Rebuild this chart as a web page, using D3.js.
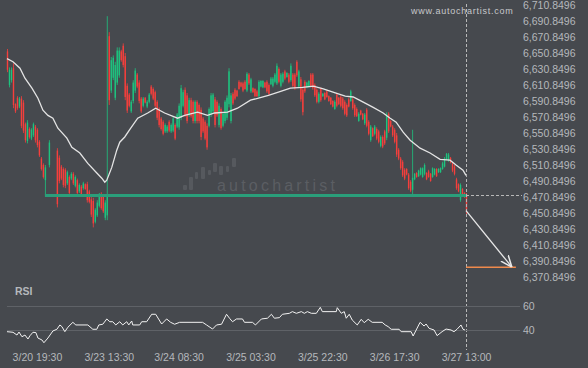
<!DOCTYPE html>
<html>
<head>
<meta charset="utf-8">
<script src="https://cdn.jsdelivr.net/npm/d3@7"></script>
<style>
  html, body { margin: 0; padding: 0; background: #46494e; }
  svg { display: block; font-family: "Liberation Sans", Arial, sans-serif; }
</style>
</head>
<body>
<svg id="chart" width="588" height="368"></svg>
<script>
// ============================================================
// DATA (30 min candles, null = no bar)
// ============================================================
var opens = [
  6651,6609,6615,6630,6585,6593,6582,6592,6587,6560,
  6539,6554,6542,6546,6557,6553,6538,6517,6509,6490,
  null,6509,null,null,null,6527,6518,6507,6504,6503,
  6486,6494,6492,6498,6483,6490,6476,6482,6480,6485,
  6485,6476,6466,6464,6438,6446,6458,6473,6469,6443,
  6446,6670,6602,6618,6593,6612,6621,6651,6658,6645,
  6608,6597,6576,6589,6602,6622,6612,6592,6583,6593,
  6582,6588,6607,6604,6600,6588,6579,6567,6563,6551,
  6551,6563,6551,6552,6559,6557,6556,6568,6583,6603,
  6596,6571,6590,6588,6564,6588,6584,6578,6567,6563,
  6558,6558,6572,6576,6591,6588,6559,6579,6558,6564,
  6568,6585,6564,6598,6603,6602,6613,6612,6611,6613,
  6602,6622,6601,6605,6604,6601,6595,6607,6606,6612,
  6613,6609,6610,6608,6613,6611,6629,6608,6613,6626,
  6619,6622,6615,6622,6622,6638,6607,6616,6603,6613,
  6606,6607,6622,6622,6609,6603,6588,6604,6595,6599,
  6601,6595,6593,6589,6579,6597,6593,6594,6592,6588,
  6584,6591,6589,6591,6584,6579,6564,6577,6573,6561,
  6578,6563,6540,6555,6548,6554,6551,6533,6544,6551,
  6543,6573,6564,6557,6553,6546,6528,6517,6513,6503,
  6504,6497,6488,6478,6491,6499,6495,6497,6494,6498,
  6499,6501,6498,6494,6497,6504,6500,6500,6504,6507,
  6516,6514,6518,6511,6507,6491,6485,6465,6479,6474,
  6472
];
var highs = [
  6654,6631,6631,6636,6586,6595,6594,6595,6590,6562,
  6565,6556,6555,6562,6559,6555,6540,6519,6511,6509,
  null,6540,null,null,null,6530,6521,6509,6506,6505,
  6502,6496,6500,6500,6496,6492,6486,6484,6488,6486,
  6488,6478,6469,6468,6455,6465,6474,6475,6471,6465,
  6695,6675,6644,6646,6638,6656,6656,6653,6661,6649,
  6611,6599,6590,6615,6630,6624,6615,6594,6594,6594,
  6590,6599,6609,6606,6602,6590,6581,6569,6565,6561,
  6559,6565,6561,6569,6561,6574,6586,6609,6603,6606,
  6599,6593,6593,6590,6590,6590,6586,6581,6569,6565,
  6561,6581,6599,6599,6594,6590,6586,6581,6575,6590,
  6596,6630,6599,6600,6605,6603,6615,6613,6613,6615,
  6625,6624,6618,6606,6605,6603,6615,6615,6615,6613,
  6615,6611,6619,6619,6624,6636,6631,6624,6625,6628,
  6625,6624,6636,6624,6624,6640,6628,6619,6606,6615,
  6613,6615,6624,6624,6611,6605,6600,6606,6599,6600,
  6603,6596,6594,6590,6590,6599,6594,6596,6594,6590,
  6586,6593,6603,6593,6586,6581,6575,6578,6574,6574,
  6580,6565,6559,6556,6559,6556,6553,6546,6546,6553,
  6575,6575,6565,6559,6555,6549,6530,6519,6515,6505,
  6505,6499,6490,6553,6499,6500,6503,6506,6506,6511,
  6500,6503,6499,6506,6505,6505,6505,6506,6513,6519,
  6524,6524,6519,6513,6509,6493,6486,6486,6480,6475,
  6474
];
var lows = [
  6625,6606,6612,6580,6574,6578,6580,6555,6549,6537,
  6536,6542,6540,6544,6537,6531,6519,6502,6492,6471,
  null,6506,null,null,null,6456,6486,6490,6481,6480,
  6484,6471,6490,6484,6481,6471,6474,6469,6478,6478,
  6462,6461,6444,6431,6436,6444,6456,6453,6449,6440,
  6440,6584,6599,6615,6590,6609,6618,6638,6631,6590,
  6574,6581,6574,6586,6599,6605,6586,6574,6581,6586,
  6580,6586,6596,6590,6581,6565,6556,6552,6546,6549,
  6549,6550,6549,6550,6540,6555,6553,6565,6581,6569,
  6561,6569,6568,6561,6561,6561,6561,6540,6549,6540,
  6528,6556,6569,6574,6556,6569,6556,6553,6556,6561,
  6565,6581,6561,6584,6590,6594,6603,6606,6600,6603,
  6600,6609,6599,6599,6594,6594,6593,6606,6605,6605,
  6599,6596,6609,6606,6611,6609,6611,6606,6611,6615,
  6618,6611,6613,6606,6603,6619,6605,6588,6571,6599,
  6605,6606,6606,6603,6594,6586,6586,6588,6594,6590,
  6593,6588,6584,6581,6578,6581,6584,6581,6578,6571,
  6569,6581,6588,6578,6569,6569,6563,6571,6565,6559,
  6556,6546,6538,6544,6546,6540,6536,6531,6530,6534,
  6540,6549,6556,6544,6536,6519,6515,6503,6494,6490,
  6496,6478,6475,6471,6490,6493,6494,6496,6493,6496,
  6490,6493,6488,6493,6496,6494,6499,6499,6503,6506,
  6515,6513,6511,6500,6496,6478,6475,6463,6469,6468,
  6446
];
var closes = [
  6628,6628,6628,6584,6576,6580,6592,6558,6552,6540,
  6562,6544,6553,6560,6540,6534,6521,6504,6494,6506,
  null,6537,null,null,null,6460,6489,6492,6484,6483,
  6500,6474,6498,6486,6494,6474,6484,6471,6486,6479,
  6465,6463,6447,6436,6453,6462,6472,6455,6451,6462,
  6470,6590,6640,6643,6634,6652,6652,6640,6634,6594,
  6577,6583,6588,6612,6627,6607,6589,6576,6592,6587,
  6588,6597,6598,6592,6583,6568,6559,6554,6548,6559,
  6557,6552,6559,6567,6542,6572,6583,6605,6600,6572,
  6564,6590,6570,6564,6588,6564,6564,6544,6551,6542,
  6531,6579,6596,6597,6559,6571,6583,6555,6573,6588,
  6593,6626,6596,6586,6592,6595,6604,6607,6602,6604,
  6623,6611,6616,6600,6595,6595,6613,6614,6614,6606,
  6601,6598,6617,6617,6622,6633,6613,6622,6623,6617,
  6624,6613,6633,6608,6605,6621,6626,6591,6575,6601,
  6612,6614,6608,6605,6596,6588,6598,6590,6598,6591,
  6594,6589,6585,6582,6588,6583,6585,6583,6580,6573,
  6571,6582,6601,6580,6571,6570,6573,6572,6566,6572,
  6558,6548,6557,6545,6557,6542,6538,6544,6532,6536,
  6572,6551,6557,6546,6538,6522,6517,6505,6496,6492,
  6497,6480,6477,6493,6498,6494,6502,6505,6505,6509,
  6491,6494,6489,6505,6504,6495,6504,6505,6511,6517,
  6523,6522,6512,6502,6498,6480,6476,6484,6470,6469,
  6452
];

// moving average (candle index, value)
var maIdx = [0,3,6.5,9,12.5,15.5,18,20.5,23,25.5,30,32.5,36.5,40.5,45,47.5,49,50,52.5,55,56.5,59,62,65.5,70.5,74.5,79,85.5,89,95.5,100.5,104,110.5,115.5,122,126,131,136,142,148,153.5,158.5,164.5,169.5,173.5,178.5,183.5,188.5,192,195,198.5,202,207,212,217,222,225,228.5,230];
var maVal = [6642,6638,6630,6617.5,6605,6592.5,6577.5,6571,6567.5,6555,6542.5,6531,6524,6511,6499,6492.5,6487.5,6490,6506,6527.5,6537.5,6544,6555,6567.5,6574,6580,6574,6567.5,6571,6575,6571,6574,6575,6580,6590,6592.5,6596,6600,6605,6606,6607.5,6604,6599,6595,6594,6587.5,6581,6574,6567.5,6562.5,6550,6540,6530,6524,6516,6515,6509,6502.5,6496];

// RSI (candle index, value)
var rsiIdx = [0,3,5,6,7.5,9,10.5,11.5,13,14.5,15.5,17.5,18.5,20.5,23,25,26.5,27.5,29,30.5,33,34.5,40.5,43,45,46,48,50,51.5,53,54.5,56.5,58,60,61,62.5,63,66.5,67.5,70,72.5,74.5,77.5,80,82,84,86.5,98,100,103,105,107.5,110,111.5,113,115,118,119,123,124.5,127.5,130.5,132.5,134,136.5,138,141.5,143,145,147.5,149,150.5,152.5,155,157,158,165,165.5,167.5,169,170,171.5,173,175.5,177.5,179,181,183,188,189.5,191,192.5,196.5,197.5,202.5,203.5,207,209,210,211.5,214,215.5,218,220,222.5,224,225.5,227.5,228.5,229.5];
var rsiVal = [38.6,38.1,35.8,38.3,34.4,35.8,32.5,35.2,38.1,37.8,33.3,31.7,29.4,33.3,39.2,40.6,44.2,42.8,38.6,42.3,46.4,44.2,44.2,40.6,40.6,44.2,44.8,49.2,46.9,46.9,44.2,46.9,44.2,46.9,44.2,47.5,44.2,44.2,46.9,46.9,53.1,53.1,45,49.2,46.4,44.8,46.4,46.4,44.2,40.8,44.2,44.8,53.1,49.8,46.9,49.2,49.2,46.4,46.4,44.2,49.2,49.8,53.1,49.8,50.3,53.1,53.9,55.3,53.9,55.3,53.9,55.3,53.9,53.9,58.9,55.3,55.3,58.6,53.9,55.3,49.8,53.1,48.3,44.2,48.9,46.1,48.9,46.4,46.4,44.2,42.8,40.6,40.6,38.6,38.6,35,46.4,43.3,45,41.4,40,35.3,38.6,40.8,40,38.6,40.6,44.2,40.6,40];

var priceTicks = d3.range(6370.8496, 6711, 20);
var rsiTicks = [40, 60];
var timeIdx = [15, 51, 86, 122, 158, 194, 230];
var timeLabels = ["3/20 19:30", "3/23 13:30", "3/24 08:30", "3/25 03:30", "3/25 22:30", "3/26 17:30", "3/27 13:00"];

var supportLevel = 6470.8496;
var supportStart = 19;
var lastIdx = 230;
var targetPrice = 6381.25;
var targetIdx = 253;
var targetLineEnd = 255;

// ============================================================
// SCALES
// ============================================================
var svg = d3.select("#chart");
var x = d3.scaleLinear().domain([0, 230]).range([7, 466]);
var y = d3.scaleLinear().domain([6370.8496, 6710.8496]).range([275.5, 3.5]);
var yRsi = d3.scaleLinear().domain([40, 60]).range([330, 306]);

var red = "#f63f3c", green = "#1ec37f", textCol = "#b5b8bc";

// watermark
var logo = svg.append("g").attr("fill", "#56595e");
[[183,185,4,5],[189,177,4,13],[195,172,3,7],[201,167,4,12],[208,170,3,5],[213,163,4,9],[219,166,4,9],[226,166,3,6],[232,158,4,9]]
  .forEach(r => logo.append("rect").attr("x", r[0]).attr("y", r[1]).attr("width", r[2]).attr("height", r[3]).attr("rx", 1));
svg.append("text").attr("x", 217).attr("y", 191).attr("font-size", 16)
  .attr("letter-spacing", 3.2).attr("fill", "#5b5e63").text("autochartist");

svg.append("text").attr("x", 411).attr("y", 14).attr("font-size", 9)
  .attr("letter-spacing", 0.75).attr("fill", "#c6c8cb").text("www.autochartist.com");

// ============================================================
// CANDLES
// ============================================================
var candles = d3.range(opens.length).filter(i => opens[i] !== null);
var cg = svg.append("g");
cg.selectAll("line.wick").data(candles).enter().append("line")
  .attr("x1", i => x(i) + 0.5).attr("x2", i => x(i) + 0.5)
  .attr("y1", i => y(highs[i])).attr("y2", i => y(lows[i]))
  .attr("stroke", i => closes[i] >= opens[i] ? green : red)
  .attr("stroke-opacity", 0.8).attr("stroke-width", 1);
cg.selectAll("rect.body").data(candles).enter().append("rect")
  .attr("x", i => x(i) - 0.2)
  .attr("width", 1.4)
  .attr("y", i => y(Math.max(opens[i], closes[i])))
  .attr("height", i => Math.max(1, Math.abs(y(opens[i]) - y(closes[i]))))
  .attr("fill", i => closes[i] >= opens[i] ? green : red);

// moving average
svg.append("path")
  .attr("d", d3.line().x((d, i) => x(maIdx[i])).y(d => y(d))(maVal))
  .attr("fill", "none").attr("stroke", "#e4e4e4").attr("stroke-width", 1.3);

// support line
svg.append("line")
  .attr("x1", x(supportStart)).attr("x2", x(lastIdx))
  .attr("y1", y(supportLevel)).attr("y2", y(supportLevel))
  .attr("stroke", "#2a9e7a").attr("stroke-width", 3);

// dashed current-time line and level
svg.append("line")
  .attr("x1", x(lastIdx) + 0.5).attr("x2", x(lastIdx) + 0.5).attr("y1", 4).attr("y2", 350)
  .attr("stroke", "#b8b8b8").attr("stroke-dasharray", "3,2");
svg.append("line")
  .attr("x1", x(lastIdx)).attr("x2", 522).attr("y1", y(supportLevel)).attr("y2", y(supportLevel))
  .attr("stroke", "#b8b8b8").attr("stroke-dasharray", "3,2");

// forecast target
svg.append("line")
  .attr("x1", x(lastIdx)).attr("x2", x(targetLineEnd))
  .attr("y1", y(targetPrice)).attr("y2", y(targetPrice))
  .attr("stroke", "#ef8a4c").attr("stroke-width", 1.5);

svg.append("defs").append("marker")
  .attr("id", "head").attr("viewBox", "0 0 10 10").attr("refX", 10).attr("refY", 5)
  .attr("markerWidth", 9).attr("markerHeight", 9).attr("orient", "auto")
  .append("path").attr("d", "M0,1 L10,5 L0,9").attr("fill", "none")
  .attr("stroke", "#e8e8e8").attr("stroke-width", 1.3);
svg.append("line")
  .attr("x1", x(lastIdx)).attr("y1", y(closes[lastIdx]))
  .attr("x2", x(targetIdx)).attr("y2", y(targetPrice))
  .attr("stroke", "#e8e8e8").attr("stroke-width", 1.3)
  .attr("marker-end", "url(#head)");

// ============================================================
// AXES
// ============================================================
var yAxis = svg.append("g").attr("transform", "translate(520,0)")
  .call(d3.axisRight(y).tickValues(priceTicks).tickFormat(d3.format(",.4f")).tickSize(0).tickPadding(3));
yAxis.select(".domain").remove();
yAxis.selectAll("text").attr("fill", textCol).attr("font-size", 10.5).attr("dy", "0.5em");

// RSI panel
svg.append("text").attr("x", 15).attr("y", 295).attr("font-size", 10.5).attr("font-weight", "bold")
  .attr("fill", textCol).text("RSI");
svg.selectAll("line.rsigrid").data(rsiTicks).enter().append("line")
  .attr("x1", 7).attr("x2", 520).attr("y1", d => yRsi(d) + 0.5).attr("y2", d => yRsi(d) + 0.5)
  .attr("stroke", "#5f6267");
var rAxis = svg.append("g").attr("transform", "translate(520,0)")
  .call(d3.axisRight(yRsi).tickValues(rsiTicks).tickSize(0).tickPadding(3));
rAxis.select(".domain").remove();
rAxis.selectAll("text").attr("fill", textCol).attr("font-size", 10.5).attr("dy", "0.35em");

svg.append("path")
  .attr("d", d3.line().x((d, i) => x(rsiIdx[i])).y(d => yRsi(d))(rsiVal))
  .attr("fill", "none").attr("stroke", "#f2f2f2").attr("stroke-width", 1);

var xAxis = svg.append("g").attr("transform", "translate(0,350)")
  .call(d3.axisBottom(x).tickValues(timeIdx).tickFormat((d, i) => timeLabels[i]).tickSize(0).tickPadding(3.5));
xAxis.select(".domain").remove();
xAxis.selectAll("text").attr("fill", textCol).attr("font-size", 10.5);
</script>
</body>
</html>
